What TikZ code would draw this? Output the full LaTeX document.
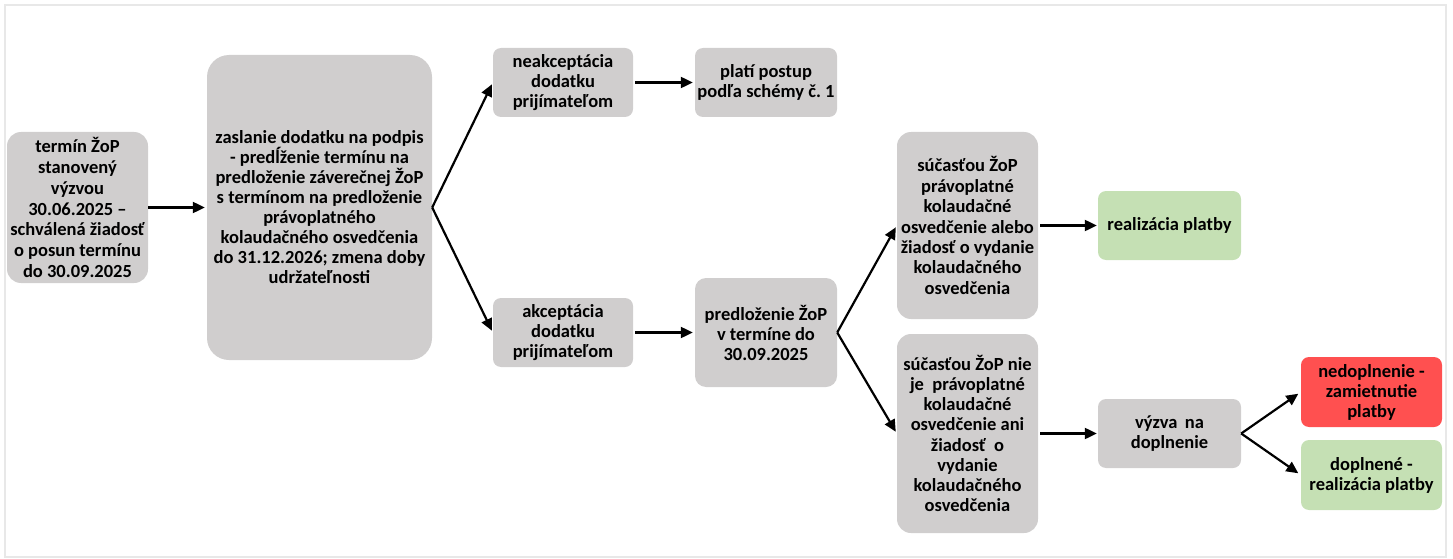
\documentclass[tikz,border=0pt]{standalone}
\usepackage{fontspec}
\setmainfont{Carlito}
\frenchspacing
\usetikzlibrary{arrows.meta}
\definecolor{boxgrey}{HTML}{D0CECE}
\definecolor{boxgreen}{HTML}{C5E0B4}
\definecolor{boxred}{HTML}{FF5050}
\definecolor{framegrey}{HTML}{E8E8E8}
\begin{document}
\begin{tikzpicture}[x=1pt,y=-1pt,
  box/.style={fill=boxgrey, draw=none, align=center, inner sep=0pt,
    font=\bfseries\fontsize{18.5}{20}\selectfont, text=black},
  smallbox/.style={box, minimum height=69pt, rounded corners=8pt},
  conn/.style={line width=2.2pt, -{Triangle[length=12pt,width=11pt]}},
]
\useasboundingbox (0,0) rectangle (1453,559);
\draw[framegrey, line width=2pt] (5,5) rectangle (1446,557);

\node[box, minimum width=141pt, minimum height=151pt, rounded corners=14pt,
  font=\bfseries\fontsize{18.5}{20.8}\selectfont] (A) at (77.5,207.5)
  {termín ŽoP\\stanovený\\výzvou\\30.06.2025 –\\schválená žiadosť\\o posun termínu\\do 30.09.2025};
\node[box, minimum width=225pt, minimum height=305pt, rounded corners=22pt] (B) at (319.5,207.5)
  {zaslanie dodatku na podpis\\- predĺženie termínu na\\predloženie záverečnej ŽoP\\s termínom na predloženie\\právoplatného\\kolaudačného osvedčenia\\do 31.12.2026; zmena doby\\udržateľnosti};
\node[smallbox, minimum width=140pt] (C) at (563,82.5) {neakceptácia\\dodatku\\prijímateľom};
\node[smallbox, minimum width=142pt] (D) at (766,82.5) {platí postup\\podľa schémy č. 1};
\node[smallbox, minimum width=140pt] (E) at (563,332.5) {akceptácia\\dodatku\\prijímateľom};
\node[box, minimum width=142pt, minimum height=109pt, rounded corners=11pt] (F) at (766,332.5)
  {predloženie ŽoP\\v termíne do\\30.09.2025};
\node[box, minimum width=141pt, minimum height=187pt, rounded corners=14pt,
  font=\bfseries\fontsize{18.5}{20.4}\selectfont] (G) at (967.5,225.5)
  {súčasťou ŽoP\\právoplatné\\kolaudačné\\osvedčenie alebo\\žiadosť o vydanie\\kolaudačného\\osvedčenia};
\node[smallbox, minimum width=143pt, fill=boxgreen] (H) at (1169.5,225.5) {realizácia platby};
\node[box, minimum width=141pt, minimum height=199pt, rounded corners=14pt,
  font=\bfseries\fontsize{18.5}{20.1}\selectfont] (I) at (967.5,433.5)
  {súčasťou ŽoP nie\\je \ právoplatné\\kolaudačné\\osvedčenie ani\\žiadosť \ o\\vydanie\\kolaudačného\\osvedčenia};
\node[smallbox, minimum width=143pt] (J) at (1169.5,433.5) {výzva\hspace{0.4em}na\\doplnenie};
\node[smallbox, minimum width=141pt, minimum height=70pt, fill=boxred] (K) at (1371.5,392)
  {nedoplnenie -\\zamietnutie\\platby};
\node[smallbox, minimum width=141pt, minimum height=70pt, fill=boxgreen] (L) at (1371.5,475)
  {doplnené -\\realizácia platby};

\draw[conn, shorten >=2pt] (A.east) -- (B.west);
\draw[conn, shorten >=2pt] (B.east) -- (C.west);
\draw[conn, shorten >=2pt] (B.east) -- (E.west);
\draw[conn, shorten <=2pt, shorten >=2pt] (C.east) -- (D.west);
\draw[conn, shorten <=2pt, shorten >=2pt] (E.east) -- (F.west);
\draw[conn, shorten >=2pt] (F.east) -- (G.west);
\draw[conn, shorten >=2pt] (F.east) -- (I.west);
\draw[conn, shorten <=2pt, shorten >=1pt] (G.east) -- (H.west);
\draw[conn, shorten <=2pt, shorten >=1pt] (I.east) -- (J.west);
\draw[conn, shorten >=3pt] (J.east) -- (K.west);
\draw[conn, shorten >=3pt] (J.east) -- (L.west);
\end{tikzpicture}
\end{document}
